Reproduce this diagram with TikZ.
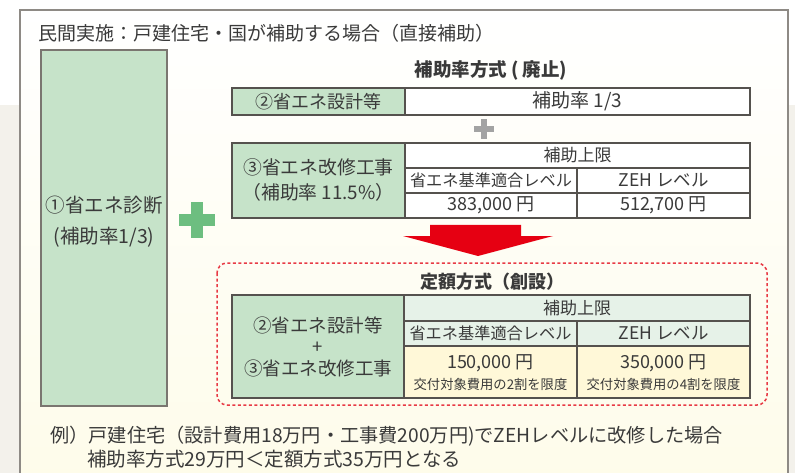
\documentclass[tikz,border=0pt]{standalone}
\usepackage{fontspec}
\setmainfont{Noto Sans CJK JP}
\definecolor{txt}{HTML}{3A3A3A}
\definecolor{gfill}{HTML}{C6E3C9}
\definecolor{gborder}{HTML}{7A7670}
\definecolor{tborder}{HTML}{55524E}
\definecolor{hfill}{HTML}{E6F2E8}
\definecolor{yfill}{HTML}{FFF8D8}
\definecolor{plusg}{HTML}{6DBE80}
\definecolor{plusgrey}{HTML}{A3A3A3}
\definecolor{redc}{HTML}{E60012}
\definecolor{dashred}{HTML}{E83A45}
\definecolor{outerbg}{HTML}{F3F1EB}
\definecolor{boxborder}{HTML}{8E8A85}
\definecolor{cream}{HTML}{FEFCEA}
\tikzset{
  fs/.style={font=\fontsize{#1}{#1}\selectfont},
  fsb/.style={font=\fontsize{#1}{#1}\selectfont\bfseries},
  cellbox/.style={draw=tborder, line width=1.2pt, inner sep=0pt, outer sep=0pt, text=txt},
  greenbox/.style={cellbox, fill=gfill},
  lbl/.style={text=txt, inner sep=0pt},
}
\begin{document}
\begin{tikzpicture}[x=1pt,y=-1pt]
\useasboundingbox (0,0) rectangle (795,473);
% backgrounds
\fill[white] (0,0) rectangle (795,473);
\fill[outerbg] (0,105) rectangle (795,473);
\shade[top color=white, bottom color=cream] (20,10) rectangle (788,480);
\draw[boxborder, line width=2pt] (20,480) -- (20,10) -- (788,10) -- (788,480);
% title
\node[lbl, fs=19, anchor=west] (title) at (38,33) {民間実施：戸建住宅・国が補助する場合（直接補助）};
% left box
\node[greenbox, draw=gborder, line width=1.5pt, minimum width=126pt, minimum height=356pt] (diag) at (104,228) {};
\node[lbl, align=center, font=\fontsize{19.5}{31}\selectfont] (diagt) at (104,222) {①省エネ診断\\(補助率1/3)};
% green plus
\fill[plusg] (179,214) rectangle (215,226);
\fill[plusg] (191,202) rectangle (203,238);
% heading 1
\node[lbl, fsb=18.5] (h1) at (491,70) {補助率方式 ( 廃止)};
% row 1
\node[greenbox, minimum width=173pt, minimum height=27pt, fs=18] (c2) at (318.5,101.5) {②省エネ設計等};
\node[cellbox, fill=white, minimum width=345pt, minimum height=27pt, fs=19] (r1) at (577.5,101.5) {補助率 1/3};
% grey plus
\fill[plusgrey] (474,126) rectangle (494,132);
\fill[plusgrey] (481,119) rectangle (487,139);
% row 2
\node[greenbox, minimum width=173pt, minimum height=75pt] (c3) at (318.5,180.5) {};
\node[lbl, align=center, font=\fontsize{18.8}{25}\selectfont] (c3t) at (318.5,179.5) {③省エネ改修工事\\（補助率 11.5\%）};
\node[cellbox, fill=white, minimum width=345pt, minimum height=25pt, fs=17] (hd1) at (577.5,155.5) {補助上限};
\node[cellbox, fill=white, minimum width=172pt, minimum height=25pt, fs=16.2] (l1) at (491,180.5) {省エネ基準適合レベル};
\node[cellbox, fill=white, minimum width=173pt, minimum height=25pt, fs=17.5] (l2) at (663.5,180.5) {ZEH レベル};
\node[cellbox, fill=white, minimum width=172pt, minimum height=25pt, fs=18] (v1) at (491,205.5) {383,000 円};
\node[cellbox, fill=white, minimum width=173pt, minimum height=25pt, fs=18] (v2) at (663.5,205.5) {512,700 円};
% red arrow
\fill[redc] (430,225) -- (521,225) -- (521,236) -- (553,236) -- (478,256) -- (403,236) -- (430,236) -- cycle;
% dashed box
\draw[dashred, line width=1.5pt, dash pattern=on 3pt off 2.5pt, rounded corners=10pt] (217,263) rectangle (767,405);
\node[lbl, fsb=18] (h2) at (492,282) {定額方式（創設）};
% bottom table
\node[greenbox, minimum width=172pt, minimum height=103pt] (c4) at (318,346.5) {};
\node[lbl, align=center, font=\fontsize{18.5}{21.5}\selectfont] (c4t) at (318,346.5) {②省エネ設計等\\+\\③省エネ改修工事};
\node[cellbox, fill=hfill, minimum width=346pt, minimum height=26pt, fs=17] (hd2) at (577,308) {補助上限};
\node[cellbox, fill=hfill, minimum width=173pt, minimum height=25pt, fs=16.2] (m1) at (490.5,333.5) {省エネ基準適合レベル};
\node[cellbox, fill=hfill, minimum width=173pt, minimum height=25pt, fs=17.5] (m2) at (663.5,333.5) {ZEH レベル};
\node[cellbox, fill=yfill, minimum width=173pt, minimum height=52pt] (n1) at (490.5,372) {};
\node[cellbox, fill=yfill, minimum width=173pt, minimum height=52pt] (n2) at (663.5,372) {};
\node[lbl, fs=18] (n1a) at (490.5,363) {150,000 円};
\node[lbl, fs=13.3] (n1b) at (490.5,384) {交付対象費用の2割を限度};
\node[lbl, fs=18] (n2a) at (663.5,363) {350,000 円};
\node[lbl, fs=13.3] (n2b) at (663.5,384) {交付対象費用の4割を限度};
% example
\node[lbl, fs=19.2, anchor=west] (ex1) at (50,436) {例）戸建住宅（設計費用18万円・工事費200万円)でZEHレベルに改修した場合};
\node[lbl, fs=19.5, anchor=west] (ex2) at (87,459) {補助率方式29万円＜定額方式35万円となる};
\end{tikzpicture}
\end{document}
